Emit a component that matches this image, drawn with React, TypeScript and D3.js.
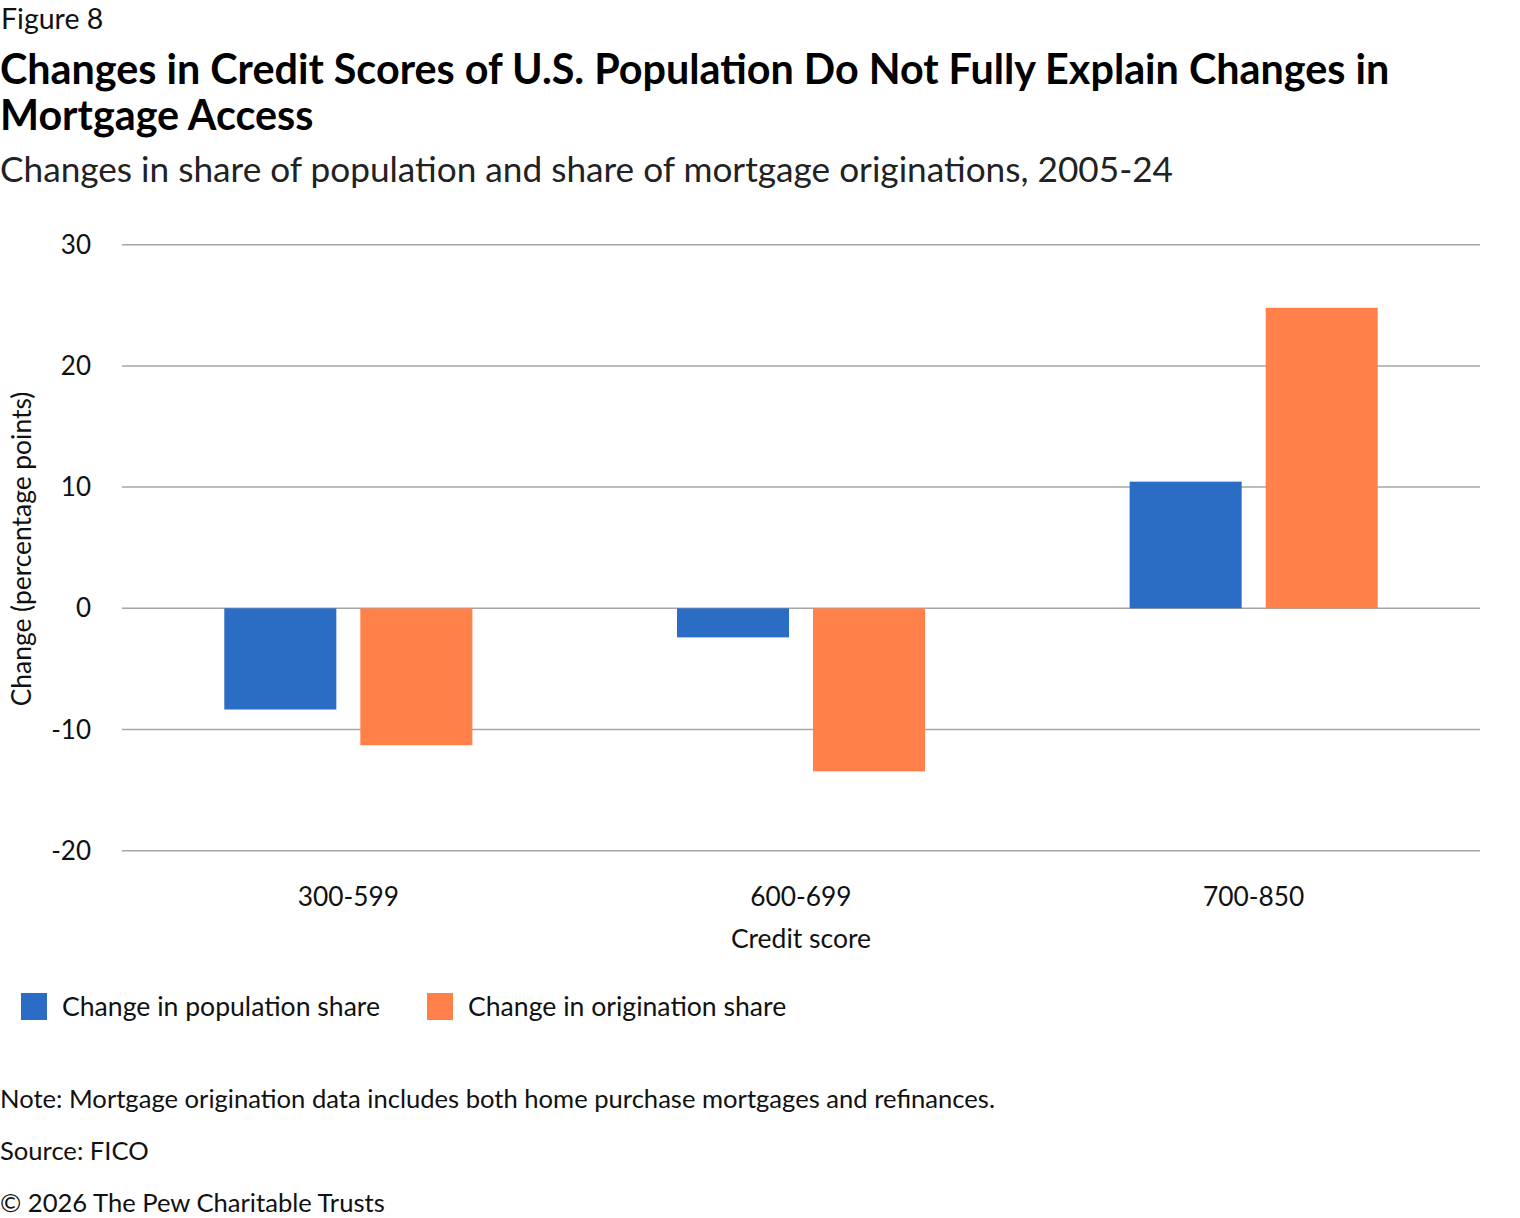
import React from "react";
import * as d3 from "d3";

const categories = ["300-599", "600-699", "700-850"];
const seriesNames = ["Change in population share", "Change in origination share"];
const populationShare = [-8.35, -2.4, 10.45];
const originationShare = [-11.3, -13.45, 24.8];
const yTicks = [30, 20, 10, 0, -10, -20];
const colors = ["#2B6CC4", "#FF8049"];

const W = 1520;
const H = 1218;
const FONT = "Lato, 'Noto Sans', sans-serif";

export default function App() {
  const left = 122;
  const right = 1480;
  const y = d3.scaleLinear().domain([-20, 30]).range([850.7, 244.7]);
  const x0 = d3.scaleBand<string>().domain(categories).range([left, right]).padding(0);
  const x1 = d3
    .scaleBand<string>()
    .domain(seriesNames)
    .range([0, x0.bandwidth()])
    .paddingInner(24 / 136)
    .paddingOuter(0.752);
  const seriesValues = [populationShare, originationShare];

  return (
    <svg
      width={W}
      height={H}
      viewBox={`0 0 ${W} ${H}`}
      style={{ position: "absolute", left: 0, top: 0, background: "#fff" }}
      fontFamily={FONT}
    >
      <rect x={0} y={0} width={W} height={H} fill="#fff" />
      <text x={1} y={29} fontSize={28.5} fill="#111">Figure 8</text>
      <text x={0} y={84} fontSize={41.3} fontWeight={700} fill="#000">
        Changes in Credit Scores of U.S. Population Do Not Fully Explain Changes in
      </text>
      <text x={0} y={130} fontSize={41.3} fontWeight={700} fill="#000">
        Mortgage Access
      </text>
      <text x={0} y={182} fontSize={35.2} fill="#222">
        Changes in share of population and share of mortgage originations, 2005-24
      </text>

      {/* grid */}
      {yTicks.map((t) => (
        <g key={t}>
          <line x1={left} x2={right} y1={y(t)} y2={y(t)} stroke="#A6A6A6" strokeWidth={1.5} />
          <text x={91} y={y(t)} dy="0.35em" textAnchor="end" fontSize={26} fill="#111">
            {t}
          </text>
        </g>
      ))}

      {/* bars */}
      {categories.map((c, i) => (
        <g key={c} transform={`translate(${x0(c)},0)`}>
          {seriesNames.map((s, j) => {
            const v = seriesValues[j][i];
            return (
              <rect
                key={s}
                x={x1(s)}
                width={x1.bandwidth()}
                y={Math.min(y(v), y(0))}
                height={Math.abs(y(v) - y(0))}
                fill={colors[j]}
              />
            );
          })}
        </g>
      ))}

      {/* x labels */}
      {categories.map((c) => (
        <text
          key={c}
          x={(x0(c) as number) + x0.bandwidth() / 2}
          y={906}
          textAnchor="middle"
          fontSize={26.3}
          fill="#111"
        >
          {c}
        </text>
      ))}
      <text x={(left + right) / 2} y={948} textAnchor="middle" fontSize={26.5} fill="#111">
        Credit score
      </text>
      <text
        transform={`translate(31,549) rotate(-90)`}
        textAnchor="middle"
        fontSize={26.4}
        fill="#111"
      >
        Change (percentage points)
      </text>

      {/* legend */}
      {seriesNames.map((s, j) => {
        const lx = j === 0 ? 21 : 427;
        return (
          <g key={s}>
            <rect x={lx} y={993} width={26} height={27} fill={colors[j]} />
            <text x={lx + 41} y={1016} fontSize={26.6} fill="#111">
              {s}
            </text>
          </g>
        );
      })}

      {/* footer */}
      <text x={0} y={1108} fontSize={25.6} fill="#111">
        Note: Mortgage origination data includes both home purchase mortgages and refinances.
      </text>
      <text x={0} y={1160} fontSize={25.6} fill="#111">Source: FICO</text>
      <text x={0} y={1212} fontSize={25.6} fill="#111">© 2026 The Pew Charitable Trusts</text>
    </svg>
  );
}
